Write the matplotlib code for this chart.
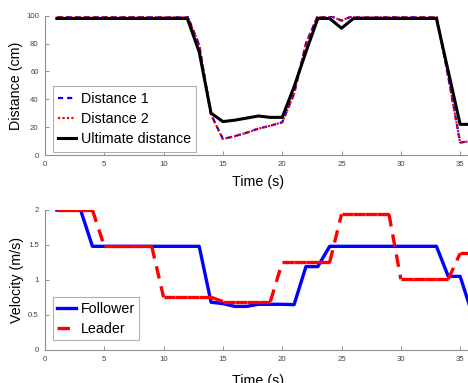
import matplotlib
matplotlib.use("Agg")
import matplotlib.pyplot as plt
import numpy as np

# ---- data ----
t = list(range(1, 37))
dist1 = [100]*12 + [79, 29, 11.5, 13.5, 16, 19, 21, 23.5, 44, 80, 100, 100, 96.5] + [100]*8 + [56, 9, 10]
dist2 = [100]*12 + [79, 29, 11.5, 13.5, 16, 19, 21, 23.5, 44, 80, 100, 100, 96.5] + [100]*8 + [56, 9, 10]
ultimate = [98]*12 + [74, 30, 24, 25, 26.5, 28, 27, 27, 49, 74, 98, 98, 91] + [98]*8 + [60, 22, 22]
follower = [2.0]*3 + [1.48]*10 + [0.68, 0.66, 0.62, 0.62, 0.65, 0.65, 0.65, 0.645, 1.19, 1.19] + [1.48]*10 + [1.05, 1.05, 0.52]
leader = [2.0]*4 + [1.48]*5 + [0.75]*5 + [0.69]*5 + [1.25]*5 + [1.94]*5 + [1.01]*5 + [1.38]*2

xticks = [0, 5, 10, 15, 20, 25, 30, 35]
yticks_top = [0, 20, 40, 60, 80, 100]
yticks_bot = [0, 0.5, 1, 1.5, 2]
yticklabels_bot = ['0', '0.5', '1', '1.5', '2']

plt.rcParams['font.family'] = ['Liberation Sans', 'DejaVu Sans']

W, H = 468, 383
fig = plt.figure(figsize=(W/100, H/100), dpi=100)

ax_left = 45 / W
ax_width = (472 - 45) / W
ax1 = fig.add_axes([ax_left, 1 - 155 / H, ax_width, (155 - 15.7) / H])
ax2 = fig.add_axes([ax_left, 1 - 349.7 / H, ax_width, (349.7 - 210) / H])

spine_col = '#909090'
tick_lab_col = '#444444'

def style(ax):
    for s in ['top', 'right']:
        ax.spines[s].set_visible(False)
    for s in ['left', 'bottom']:
        ax.spines[s].set_color(spine_col)
        ax.spines[s].set_linewidth(0.8)
    ax.tick_params(direction='in', length=3, width=0.7, color=spine_col,
                   labelsize=5.6, labelcolor=tick_lab_col, pad=4.5)
    ax.set_xlim(0, 36)
    ax.set_xticks(xticks)
    ax.set_xticklabels([str(v) for v in xticks])

# ---- top ----
style(ax1)
ax1.plot(t, dist1, color='#0000ff', lw=1.6, linestyle=(0, (2.3, 1.8)), label='Distance 1')
ax1.plot(t, dist2, color='#ff0000', lw=1.6, linestyle=(0, (1, 1)), label='Distance 2')
ax1.plot(t, ultimate, color='black', lw=2.2, label='Ultimate distance')
ax1.set_ylim(0, 100)
ax1.set_yticks(yticks_top)
ax1.set_yticklabels([str(v) for v in yticks_top])
ax1.set_xlabel('Time (s)', fontsize=10.3, labelpad=5)
ax1.set_ylabel('Distance (cm)', fontsize=10.3, labelpad=2)
leg1 = ax1.legend(loc='lower left', bbox_to_anchor=(52.7 / W, 1 - 151.7 / H),
                  bbox_transform=fig.transFigure, fontsize=10.3, frameon=True,
                  fancybox=False, edgecolor='#b0b0b0', framealpha=1,
                  handlelength=1.2, handletextpad=0.35, labelspacing=0.42,
                  borderpad=0.4, borderaxespad=0)
leg1.get_frame().set_linewidth(0.8)

# ---- bottom ----
style(ax2)
ax2.plot(t, follower, color='#0000ff', lw=2.4, label='Follower', zorder=2)
for i in range(len(t) - 1):
    ax2.plot(t[i:i + 2], leader[i:i + 2], color='#ff0000', lw=2.4,
             linestyle=(0, (3.75, 2.4)), zorder=3,
             label='Leader' if i == 0 else None)
ax2.set_ylim(0, 2)
ax2.set_yticks(yticks_bot)
ax2.set_yticklabels(yticklabels_bot)
ax2.set_xlabel('Time (s)', fontsize=10.3, labelpad=8)
ax2.set_ylabel('Velocity (m/s)', fontsize=10.3, labelpad=3)
leg2 = ax2.legend(loc='lower left', bbox_to_anchor=(52.7 / W, 1 - 340 / H),
                  bbox_transform=fig.transFigure, fontsize=10.3, frameon=True,
                  fancybox=False, edgecolor='#b0b0b0', framealpha=1,
                  handlelength=1.3, handletextpad=0.35, labelspacing=0.42,
                  borderpad=0.3, borderaxespad=0)
leg2.get_frame().set_linewidth(0.8)

fig.savefig('out.png', dpi=100)
